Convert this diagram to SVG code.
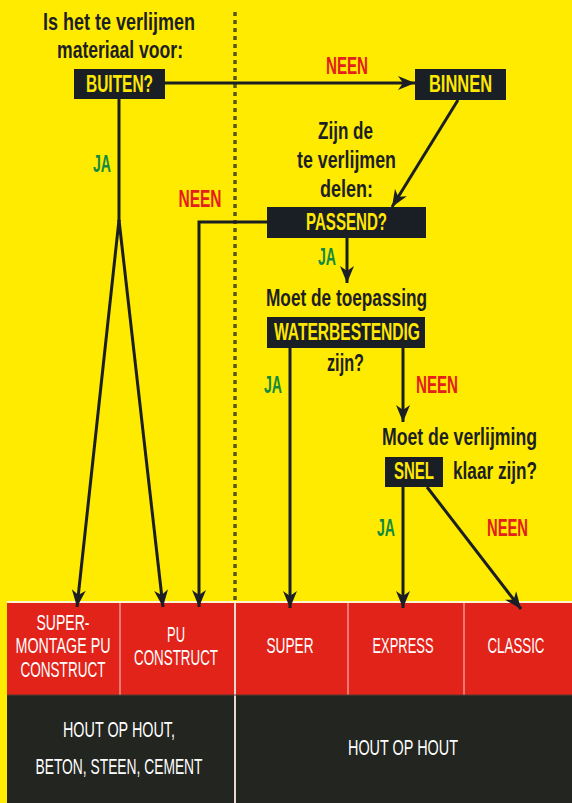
<svg xmlns="http://www.w3.org/2000/svg" width="572" height="803" viewBox="0 0 572 803">
<style>
.q{font-family:"Liberation Sans Narrow","Liberation Sans",Arial,sans-serif;font-weight:bold;font-size:24px;fill:#1d1f22;text-anchor:middle}
.k{fill:#FFE800}
.n{fill:#E3201B}
.j{fill:#138A3F}
.box{fill:#1a1f25}
.c{fill:none;stroke:#1b1f24;stroke-width:3}
.t{font-family:"Liberation Sans Narrow","Liberation Sans",Arial,sans-serif;font-size:22px;fill:#ffffff;text-anchor:middle}
</style>
<defs>
<marker id="ar" markerUnits="userSpaceOnUse" markerWidth="18" markerHeight="16" viewBox="0 0 18 16" refX="17" refY="8" orient="auto">
<path d="M0,1 L17,8 L0,15 L5,8 z" fill="#1b1f24"/>
</marker>
</defs>
<rect x="0" y="0" width="572" height="803" fill="#FFEB00"/>
<line x1="235" y1="12" x2="235" y2="602" stroke="#3e3e1a" stroke-width="3.5" stroke-dasharray="4 4" opacity="0.85"/>

<g id="table">
<rect x="7" y="602" width="565" height="93" fill="#E2231A"/>
<rect x="7" y="695" width="565" height="108" fill="#232620"/>
<line x1="7" y1="602" x2="572" y2="602" stroke="#fff6d0" stroke-width="2"/>
<line x1="120" y1="603" x2="120" y2="695" stroke="#f07870" stroke-width="2"/>
<line x1="348" y1="603" x2="348" y2="695" stroke="#f07870" stroke-width="2"/>
<line x1="464" y1="603" x2="464" y2="695" stroke="#f07870" stroke-width="2"/>
<line x1="235" y1="603" x2="235" y2="803" stroke="#e8d8d0" stroke-width="2"/>
<line x1="7" y1="695" x2="572" y2="695" stroke="#5a3a30" stroke-width="1"/>
<g id="n-supermontage"><text class="t" x="63" y="630" textLength="53" lengthAdjust="spacingAndGlyphs">SUPER-</text><text class="t" x="63" y="653" textLength="95" lengthAdjust="spacingAndGlyphs">MONTAGE PU</text><text class="t" x="63" y="677" textLength="85" lengthAdjust="spacingAndGlyphs">CONSTRUCT</text></g>
<g id="n-puconstruct"><text class="t" x="176" y="642" textLength="18" lengthAdjust="spacingAndGlyphs">PU</text><text class="t" x="176" y="665" textLength="84" lengthAdjust="spacingAndGlyphs">CONSTRUCT</text></g>
<g id="n-super"><text class="t" x="290" y="653" textLength="47" lengthAdjust="spacingAndGlyphs">SUPER</text></g>
<g id="n-express"><text class="t" x="403" y="653" textLength="61" lengthAdjust="spacingAndGlyphs">EXPRESS</text></g>
<g id="n-classic"><text class="t" x="516" y="653" textLength="57" lengthAdjust="spacingAndGlyphs">CLASSIC</text></g>
<text class="t" x="119" y="737" textLength="112" lengthAdjust="spacingAndGlyphs">HOUT OP HOUT,</text>
<text class="t" x="119" y="774" textLength="167" lengthAdjust="spacingAndGlyphs">BETON, STEEN, CEMENT</text>
<text class="t" x="403" y="755" textLength="110" lengthAdjust="spacingAndGlyphs">HOUT OP HOUT</text>
</g>

<g id="connectors">
<line class="c" x1="165" y1="83" x2="415" y2="83" marker-end="url(#ar)"/>
<line class="c" x1="119" y1="99" x2="119" y2="221"/>
<line class="c" x1="119" y1="220" x2="77" y2="607" marker-end="url(#ar)"/>
<line class="c" x1="119" y1="220" x2="163" y2="607" marker-end="url(#ar)"/>
<line class="c" x1="458" y1="100" x2="392" y2="207" marker-end="url(#ar)"/>
<polyline class="c" points="267,222 199,222 199,607" marker-end="url(#ar)"/>
<line class="c" x1="347" y1="238" x2="347" y2="283" marker-end="url(#ar)"/>
<line class="c" x1="290" y1="348" x2="290" y2="608" marker-end="url(#ar)"/>
<line class="c" x1="403" y1="348" x2="403" y2="422" marker-end="url(#ar)"/>
<line class="c" x1="403" y1="487" x2="403" y2="608" marker-end="url(#ar)"/>
<line class="c" x1="427" y1="487" x2="521" y2="609" marker-end="url(#ar)"/>
<text class="q n" x="347" y="74" textLength="42" lengthAdjust="spacingAndGlyphs">NEEN</text>
<text class="q j" x="102" y="172" textLength="18" lengthAdjust="spacingAndGlyphs">JA</text>
<text class="q n" x="200" y="207" textLength="43" lengthAdjust="spacingAndGlyphs">NEEN</text>
<text class="q j" x="327" y="265" textLength="18" lengthAdjust="spacingAndGlyphs">JA</text>
<text class="q j" x="273" y="393" textLength="18" lengthAdjust="spacingAndGlyphs">JA</text>
<text class="q n" x="437" y="393" textLength="42" lengthAdjust="spacingAndGlyphs">NEEN</text>
<text class="q j" x="386" y="536" textLength="18" lengthAdjust="spacingAndGlyphs">JA</text>
<text class="q n" x="507.5" y="536" textLength="41" lengthAdjust="spacingAndGlyphs">NEEN</text>
</g>

<g id="n-buiten">
<text class="q" x="119" y="30" textLength="152" lengthAdjust="spacingAndGlyphs">Is het te verlijmen</text>
<text class="q" x="120" y="58" textLength="126" lengthAdjust="spacingAndGlyphs">materiaal voor:</text>
<rect class="box" x="74" y="69" width="91" height="30"/>
<text class="q k" x="119.5" y="92" textLength="67" lengthAdjust="spacingAndGlyphs">BUITEN?</text>
</g>
<g id="n-binnen">
<rect class="box" x="415" y="69" width="91" height="31"/>
<text class="q k" x="460.5" y="92" textLength="63" lengthAdjust="spacingAndGlyphs">BINNEN</text>
</g>
<g id="n-passend">
<text class="q" x="345.5" y="139" textLength="55" lengthAdjust="spacingAndGlyphs">Zijn de</text>
<text class="q" x="346.5" y="168" textLength="99" lengthAdjust="spacingAndGlyphs">te verlijmen</text>
<text class="q" x="346.5" y="197" textLength="53" lengthAdjust="spacingAndGlyphs">delen:</text>
<rect class="box" x="267" y="207" width="159" height="31"/>
<text class="q k" x="346.5" y="230" textLength="81" lengthAdjust="spacingAndGlyphs">PASSEND?</text>
</g>
<g id="n-water">
<text class="q" x="346.5" y="306" textLength="161" lengthAdjust="spacingAndGlyphs">Moet de toepassing</text>
<rect class="box" x="267" y="317" width="158" height="31"/>
<text class="q k" x="347" y="340" textLength="146" lengthAdjust="spacingAndGlyphs">WATERBESTENDIG</text>
<text class="q" x="345.5" y="371" textLength="37" lengthAdjust="spacingAndGlyphs">zijn?</text>
</g>
<g id="n-snel">
<text class="q" x="459.5" y="445" textLength="155" lengthAdjust="spacingAndGlyphs">Moet de verlijming</text>
<rect class="box" x="385" y="457" width="58" height="30"/>
<text class="q k" x="414" y="479" textLength="40" lengthAdjust="spacingAndGlyphs">SNEL</text>
<text class="q" x="495" y="479" textLength="84" lengthAdjust="spacingAndGlyphs">klaar zijn?</text>
</g>
</svg>
